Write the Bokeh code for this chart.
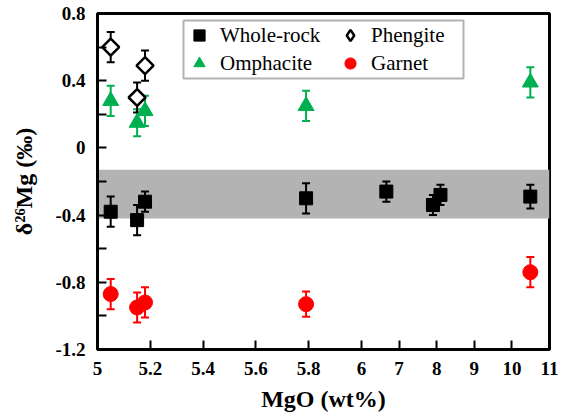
import math
from bokeh.plotting import figure
from bokeh.models import (ColumnDataSource, Range1d, FixedTicker, Whisker, TeeHead,
                          BoxAnnotation, Legend, LegendItem)
from bokeh.embed import file_html
from bokeh.resources import INLINE

# ---------------- data (MgO wt%, delta26Mg permil, 2SD) ----------------
WR_MGO = [5.05, 5.15, 5.18, 5.79, 6.66, 7.90, 8.10, 10.49]
WR_D26 = [-0.38, -0.43, -0.32, -0.30, -0.26, -0.34, -0.28, -0.29]
WR_ERR = [0.09, 0.09, 0.06, 0.09, 0.06, 0.06, 0.06, 0.07]

OMP_MGO = [5.05, 5.15, 5.18, 5.79, 10.49]
OMP_D26 = [0.28, 0.15, 0.22, 0.25, 0.39]
OMP_ERR = [0.09, 0.08, 0.09, 0.09, 0.09]

PHE_MGO = [5.05, 5.15, 5.18]
PHE_D26 = [0.60, 0.30, 0.49]
PHE_ERR = [0.09, 0.09, 0.09]

GRT_MGO = [5.05, 5.15, 5.18, 5.79, 10.49]
GRT_D26 = [-0.87, -0.95, -0.92, -0.93, -0.74]
GRT_ERR = [0.09, 0.09, 0.09, 0.075, 0.09]

BAND_LOW, BAND_HIGH = -0.42, -0.13

X_TICKS = [5, 5.2, 5.4, 5.6, 5.8, 6, 7, 8, 9, 10, 11]
X_TICK_LABELS = ["5", "5.2", "5.4", "5.6", "5.8", "6", "7", "8", "9", "10", "11"]
Y_TICKS = [-1.2, -0.8, -0.4, 0, 0.4, 0.8]
Y_TICK_LABELS = ["-1.2", "-0.8", "-0.4", "0", "0.4", "0.8"]
Y_MINOR = [-1.0, -0.6, -0.2, 0.2, 0.6]

# broken x scale: 5-6 linear, above 6 compressed
BREAK = 6.0
COMPRESS = 0.1424


def squeeze(v):
    return round(v if v <= BREAK else BREAK + (v - BREAK) * COMPRESS, 6)


GREEN = "#00B050"
RED = "#FF0000"
SERIF = "Liberation Serif"

FRAME_L, FRAME_B = 97, 349

p = figure(width=568, height=416, output_backend="svg", toolbar_location=None,
           x_range=Range1d(squeeze(5), squeeze(11)), y_range=Range1d(-1.2, 0.8),
           min_border_left=FRAME_L, min_border_right=19, min_border_top=13,
           min_border_bottom=416 - FRAME_B)
p.xgrid.visible = False
p.ygrid.visible = False
p.outline_line_color = "black"
p.outline_line_width = 3
p.background_fill_color = "white"
p.border_fill_color = "white"

# grey reference band
band = BoxAnnotation(bottom=BAND_LOW, top=BAND_HIGH, fill_color="#B3B3B3",
                     fill_alpha=1.0, line_alpha=0, level="underlay")
p.add_layout(band)


def make_src(xs, ys, es):
    return ColumnDataSource(dict(
        t=[squeeze(v) for v in xs], y=ys,
        hi=[a + b for a, b in zip(ys, es)], lo=[a - b for a, b in zip(ys, es)]))


def add_err(src, color):
    w = Whisker(source=src, base="t", upper="hi", lower="lo", dimension="height",
                line_color=color, line_width=2, level="underlay",
                upper_head=TeeHead(size=8, line_color=color, line_width=2),
                lower_head=TeeHead(size=8, line_color=color, line_width=2))
    p.add_layout(w)


s_wr = make_src(WR_MGO, WR_D26, WR_ERR)
s_omp = make_src(OMP_MGO, OMP_D26, OMP_ERR)
s_phe = make_src(PHE_MGO, PHE_D26, PHE_ERR)
s_grt = make_src(GRT_MGO, GRT_D26, GRT_ERR)

for s, c in [(s_wr, "black"), (s_omp, GREEN), (s_phe, "black"), (s_grt, RED)]:
    add_err(s, c)

r_wr = p.scatter("t", "y", source=s_wr, marker="square", size=13,
                 fill_color="black", line_color="black")
r_omp = p.scatter("t", "y", source=s_omp, marker="triangle", size=16,
                  fill_color=GREEN, line_color=GREEN)
r_phe = p.scatter("t", "y", source=s_phe, marker="square", angle=math.pi / 4,
                  size=12, fill_color="white", line_color="black", line_width=2.5)
r_grt = p.scatter("t", "y", source=s_grt, marker="circle", size=15,
                  fill_color=RED, line_color=RED)
# legend-only glyph for phengite (diamond symbol); NaN position -> not drawn in plot
r_phe_leg = p.scatter("x", "y", source=ColumnDataSource(dict(x=[float("nan")], y=[float("nan")])),
                      marker="diamond", size=12, fill_color="white",
                      line_color="black", line_width=2.5)

# ---------------- axes ----------------
xt = [squeeze(v) for v in X_TICKS]
p.xaxis.ticker = FixedTicker(ticks=xt, minor_ticks=[])
p.xaxis.major_label_overrides = {k: v for k, v in zip(xt, X_TICK_LABELS)}
p.yaxis.ticker = FixedTicker(ticks=Y_TICKS, minor_ticks=Y_MINOR)
p.yaxis.major_label_overrides = {k: v for k, v in zip(Y_TICKS, Y_TICK_LABELS)}

for ax in (p.xaxis[0], p.yaxis[0]):
    ax.axis_line_width = 3
    ax.axis_line_color = "black"
    ax.major_tick_in = 9
    ax.major_tick_out = 0
    ax.minor_tick_in = 9
    ax.minor_tick_out = 0
    ax.major_tick_line_width = 2
    ax.minor_tick_line_width = 2
    ax.major_label_text_font = SERIF
    ax.major_label_text_font_style = "bold"
    ax.major_label_text_font_size = "19px"
    ax.major_label_text_color = "black"
    ax.axis_label_text_font = SERIF
    ax.axis_label_text_font_style = "bold"
    ax.axis_label_text_color = "black"

p.xaxis.major_label_standoff = 12
p.yaxis.major_label_standoff = 12
p.xaxis.axis_label = "MgO (wt%)"
p.xaxis.axis_label_text_font_size = "24px"
p.xaxis.axis_label_standoff = 8
p.yaxis.axis_label = "δ²⁶Mg (‰)"
p.yaxis.axis_label_text_font_size = "24px"
p.yaxis.axis_label_standoff = 15

# ---------------- legend ----------------
# frame-relative screen px of the legend frame
legend_box = BoxAnnotation(left=86, right=366, bottom=271, top=329,
                           left_units="screen", right_units="screen",
                           bottom_units="screen", top_units="screen",
                           fill_color="white", fill_alpha=1.0,
                           line_color="black", line_width=2)
p.add_layout(legend_box)

common = dict(glyph_width=32, glyph_height=28, spacing=0, padding=0, margin=0,
              label_standoff=5, label_text_font=SERIF, label_text_font_size="21px",
              label_text_color="black", border_line_alpha=0,
              background_fill_alpha=0)
legA = Legend(items=[LegendItem(label="Whole-rock", renderers=[r_wr]),
                     LegendItem(label="Omphacite", renderers=[r_omp])],
              location=(86, 272), **common)
legB = Legend(items=[LegendItem(label="Phengite", renderers=[r_phe_leg]),
                     LegendItem(label="Garnet", renderers=[r_grt])],
              location=(237, 272), **common)
p.add_layout(legA)
p.add_layout(legB)

open("out.html", "w").write(file_html(p, INLINE))
